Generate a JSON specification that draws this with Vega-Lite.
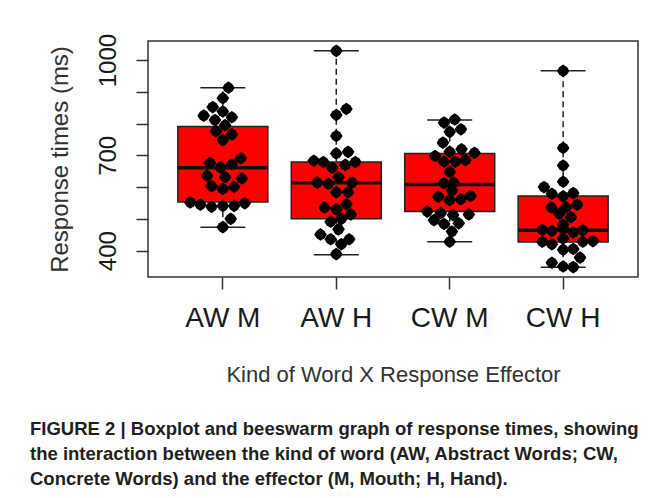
{
  "$schema": "https://vega.github.io/schema/vega-lite/v6.json",
  "width": 490,
  "height": 236,
  "autosize": {"type": "none"},
  "padding": {"left": 148, "top": 41, "right": 32, "bottom": 221},
  "background": "white",
  "config": {
    "view": {"stroke": "#333333", "strokeWidth": 1.5},
    "font": "Liberation Sans",
    "axisQuantitative": {"labelOverlap": false},
    "axisY": {
      "values": [400, 500, 600, 700, 800, 900, 1000],
      "labelExpr": "(datum.value == 400 || datum.value == 700 || datum.value == 1000) ? format(datum.value, 'd') : ''",
      "labelOverlap": false,
      "labelBound": false,
      "labelSeparation": 0,
      "domain": false,
      "grid": false,
      "tickSize": 12,
      "tickWidth": 1.5,
      "tickColor": "#333333",
      "labelAngle": -90,
      "labelFontSize": 24,
      "labelColor": "#1a1a1a",
      "labelPadding": 16,
      "titleFontSize": 24,
      "titleFontWeight": "normal",
      "titleColor": "#333333",
      "titlePadding": 24
    }
  },
  "title": {
    "text": [
      "FIGURE 2 | Boxplot and beeswarm graph of response times, showing",
      "the interaction between the kind of word (AW, Abstract Words; CW,",
      "Concrete Words) and the effector (M, Mouth; H, Hand)."
    ],
    "orient": "bottom",
    "anchor": "start",
    "frame": "group",
    "dx": -118,
    "offset": 35,
    "fontSize": 18.5,
    "fontWeight": "bold",
    "lineHeight": 25,
    "color": "#231f20",
    "font": "Liberation Sans"
  },
  "datasets": {
    "summary": [
      {"group": "AW M", "lower": 474, "q1": 553, "median": 661, "q3": 791, "upper": 913},
      {"group": "AW H", "lower": 387, "q1": 500, "median": 614, "q3": 679, "upper": 1029},
      {"group": "CW M", "lower": 428, "q1": 523, "median": 608, "q3": 706, "upper": 811},
      {"group": "CW H", "lower": 348, "q1": 427, "median": 464, "q3": 572, "upper": 966}
    ],
    "points": [
      {"group": "AW M", "rt": 913, "swarm": 0.05},
      {"group": "AW M", "rt": 880, "swarm": 0},
      {"group": "AW M", "rt": 852, "swarm": -0.09},
      {"group": "AW M", "rt": 838, "swarm": 0},
      {"group": "AW M", "rt": 825, "swarm": -0.17},
      {"group": "AW M", "rt": 811, "swarm": -0.07},
      {"group": "AW M", "rt": 820, "swarm": 0.08},
      {"group": "AW M", "rt": 795, "swarm": 0.02},
      {"group": "AW M", "rt": 776, "swarm": -0.06},
      {"group": "AW M", "rt": 766, "swarm": 0.08},
      {"group": "AW M", "rt": 748, "swarm": 0},
      {"group": "AW M", "rt": 691, "swarm": 0.16},
      {"group": "AW M", "rt": 676, "swarm": -0.115},
      {"group": "AW M", "rt": 662, "swarm": -0.02},
      {"group": "AW M", "rt": 672, "swarm": 0.08},
      {"group": "AW M", "rt": 636, "swarm": -0.14},
      {"group": "AW M", "rt": 631, "swarm": 0.02},
      {"group": "AW M", "rt": 627, "swarm": 0.17},
      {"group": "AW M", "rt": 603, "swarm": -0.1},
      {"group": "AW M", "rt": 594, "swarm": 0},
      {"group": "AW M", "rt": 601, "swarm": 0.1},
      {"group": "AW M", "rt": 552, "swarm": -0.29},
      {"group": "AW M", "rt": 545, "swarm": -0.2},
      {"group": "AW M", "rt": 538, "swarm": -0.1},
      {"group": "AW M", "rt": 541, "swarm": 0},
      {"group": "AW M", "rt": 541, "swarm": 0.1},
      {"group": "AW M", "rt": 549, "swarm": 0.195},
      {"group": "AW M", "rt": 500, "swarm": 0.07},
      {"group": "AW M", "rt": 474, "swarm": 0},
      {"group": "AW H", "rt": 1029, "swarm": 0},
      {"group": "AW H", "rt": 846, "swarm": 0.09},
      {"group": "AW H", "rt": 827, "swarm": 0},
      {"group": "AW H", "rt": 761, "swarm": 0},
      {"group": "AW H", "rt": 711, "swarm": 0.105},
      {"group": "AW H", "rt": 706, "swarm": 0},
      {"group": "AW H", "rt": 683, "swarm": -0.2},
      {"group": "AW H", "rt": 679, "swarm": -0.115},
      {"group": "AW H", "rt": 661, "swarm": -0.035},
      {"group": "AW H", "rt": 670, "swarm": 0.08},
      {"group": "AW H", "rt": 679, "swarm": 0.17},
      {"group": "AW H", "rt": 614, "swarm": -0.17},
      {"group": "AW H", "rt": 610, "swarm": -0.07},
      {"group": "AW H", "rt": 631, "swarm": 0.02},
      {"group": "AW H", "rt": 614, "swarm": 0.14},
      {"group": "AW H", "rt": 584, "swarm": 0},
      {"group": "AW H", "rt": 584, "swarm": 0.105},
      {"group": "AW H", "rt": 546, "swarm": 0.09},
      {"group": "AW H", "rt": 536, "swarm": -0.105},
      {"group": "AW H", "rt": 530, "swarm": 0},
      {"group": "AW H", "rt": 514, "swarm": 0.13},
      {"group": "AW H", "rt": 491, "swarm": -0.05},
      {"group": "AW H", "rt": 500, "swarm": 0.045},
      {"group": "AW H", "rt": 467, "swarm": 0.02},
      {"group": "AW H", "rt": 451, "swarm": -0.14},
      {"group": "AW H", "rt": 436, "swarm": -0.05},
      {"group": "AW H", "rt": 436, "swarm": 0.115},
      {"group": "AW H", "rt": 420, "swarm": 0.045},
      {"group": "AW H", "rt": 389, "swarm": 0},
      {"group": "CW M", "rt": 813, "swarm": 0.045},
      {"group": "CW M", "rt": 803, "swarm": -0.05},
      {"group": "CW M", "rt": 774, "swarm": 0},
      {"group": "CW M", "rt": 782, "swarm": 0.1},
      {"group": "CW M", "rt": 740, "swarm": -0.06},
      {"group": "CW M", "rt": 711, "swarm": 0},
      {"group": "CW M", "rt": 719, "swarm": 0.105},
      {"group": "CW M", "rt": 708, "swarm": 0.22},
      {"group": "CW M", "rt": 698, "swarm": -0.13},
      {"group": "CW M", "rt": 680, "swarm": -0.05},
      {"group": "CW M", "rt": 680, "swarm": 0.05},
      {"group": "CW M", "rt": 685, "swarm": 0.14},
      {"group": "CW M", "rt": 648, "swarm": 0},
      {"group": "CW M", "rt": 612, "swarm": -0.05},
      {"group": "CW M", "rt": 614, "swarm": 0.035},
      {"group": "CW M", "rt": 589, "swarm": 0.02},
      {"group": "CW M", "rt": 570, "swarm": -0.1},
      {"group": "CW M", "rt": 559, "swarm": 0},
      {"group": "CW M", "rt": 562, "swarm": 0.1},
      {"group": "CW M", "rt": 572, "swarm": 0.185},
      {"group": "CW M", "rt": 523, "swarm": -0.2},
      {"group": "CW M", "rt": 518, "swarm": -0.08},
      {"group": "CW M", "rt": 512, "swarm": 0.03},
      {"group": "CW M", "rt": 514, "swarm": 0.17},
      {"group": "CW M", "rt": 496, "swarm": -0.14},
      {"group": "CW M", "rt": 484, "swarm": -0.05},
      {"group": "CW M", "rt": 486, "swarm": 0.08},
      {"group": "CW M", "rt": 460, "swarm": 0.02},
      {"group": "CW M", "rt": 428, "swarm": 0},
      {"group": "CW H", "rt": 966, "swarm": 0},
      {"group": "CW H", "rt": 723, "swarm": 0},
      {"group": "CW H", "rt": 668, "swarm": 0},
      {"group": "CW H", "rt": 617, "swarm": 0},
      {"group": "CW H", "rt": 600, "swarm": -0.17},
      {"group": "CW H", "rt": 579, "swarm": -0.1},
      {"group": "CW H", "rt": 571, "swarm": 0},
      {"group": "CW H", "rt": 581, "swarm": 0.09},
      {"group": "CW H", "rt": 536, "swarm": -0.105},
      {"group": "CW H", "rt": 536, "swarm": 0.025},
      {"group": "CW H", "rt": 545, "swarm": 0.125},
      {"group": "CW H", "rt": 516, "swarm": -0.035},
      {"group": "CW H", "rt": 505, "swarm": 0.07},
      {"group": "CW H", "rt": 482, "swarm": 0},
      {"group": "CW H", "rt": 465, "swarm": -0.185},
      {"group": "CW H", "rt": 462, "swarm": -0.1},
      {"group": "CW H", "rt": 470, "swarm": 0},
      {"group": "CW H", "rt": 457, "swarm": 0.09},
      {"group": "CW H", "rt": 464, "swarm": 0.175},
      {"group": "CW H", "rt": 428, "swarm": -0.185},
      {"group": "CW H", "rt": 420, "swarm": -0.1},
      {"group": "CW H", "rt": 438, "swarm": 0},
      {"group": "CW H", "rt": 428, "swarm": 0.175},
      {"group": "CW H", "rt": 430, "swarm": 0.265},
      {"group": "CW H", "rt": 403, "swarm": 0},
      {"group": "CW H", "rt": 405, "swarm": 0.09},
      {"group": "CW H", "rt": 378, "swarm": 0.15},
      {"group": "CW H", "rt": 362, "swarm": -0.1},
      {"group": "CW H", "rt": 350, "swarm": 0},
      {"group": "CW H", "rt": 348, "swarm": 0.09}
    ]
  },
  "encoding": {
    "x": {
      "field": "group",
      "type": "nominal",
      "sort": ["AW M", "AW H", "CW M", "CW H"],
      "scale": {"paddingInner": 0.2063, "paddingOuter": 0.263},
      "title": "Kind of Word X Response Effector",
      "axis": {
        "domain": false,
        "grid": false,
        "ticks": true,
        "tickSize": 12,
        "tickWidth": 1.5,
        "tickColor": "#333333",
        "labelAngle": 0,
        "labelFontSize": 28,
        "labelColor": "#1a1a1a",
        "labelPadding": 15,
        "titleFontSize": 22,
        "titleFontWeight": "normal",
        "titleColor": "#333333",
        "titlePadding": 32
      }
    }
  },
  "layer": [
    {
      "data": {"name": "summary"},
      "mark": {"type": "rule", "strokeDash": [6, 4], "color": "#222222", "strokeWidth": 1.5, "opacity": 1},
      "encoding": {
        "y": {
          "field": "lower",
          "type": "quantitative",
          "title": "Response times (ms)",
          "scale": {"domain": [317, 1060], "nice": false, "zero": false},
          "axis": {"labelOverlap": false}
        },
        "y2": {"field": "upper"}
      }
    },
    {
      "data": {"name": "summary"},
      "mark": {"type": "tick", "size": 45, "thickness": 1.5, "color": "#222222", "orient": "horizontal", "opacity": 1},
      "encoding": {"y": {"field": "lower", "type": "quantitative", "title": "Response times (ms)", "axis": {"labelOverlap": false}}}
    },
    {
      "data": {"name": "summary"},
      "mark": {"type": "tick", "size": 45, "thickness": 1.5, "color": "#222222", "orient": "horizontal", "opacity": 1},
      "encoding": {"y": {"field": "upper", "type": "quantitative", "title": "Response times (ms)", "axis": {"labelOverlap": false}}}
    },
    {
      "data": {"name": "summary"},
      "mark": {"type": "bar", "width": 90, "fill": "#ff0000", "stroke": "#222222", "strokeWidth": 1.5, "opacity": 1},
      "encoding": {
        "y": {"field": "q1", "type": "quantitative", "title": "Response times (ms)", "axis": {"labelOverlap": false}},
        "y2": {"field": "q3"}
      }
    },
    {
      "data": {"name": "summary"},
      "mark": {"type": "tick", "size": 90, "thickness": 3.5, "color": "#111111", "orient": "horizontal", "opacity": 1},
      "encoding": {"y": {"field": "median", "type": "quantitative", "title": "Response times (ms)", "axis": {"labelOverlap": false}}}
    },
    {
      "data": {"name": "points"},
      "mark": {
        "type": "point",
        "filled": true,
        "shape": "M0,-1L0.6,-0.6L1,0L0.6,0.6L0,1L-0.6,0.6L-1,0L-0.6,-0.6Z",
        "size": 160,
        "color": "#000000",
        "opacity": 1
      },
      "encoding": {
        "y": {"field": "rt", "type": "quantitative", "title": "Response times (ms)", "axis": {"labelOverlap": false}},
        "xOffset": {
          "field": "swarm",
          "type": "quantitative",
          "scale": {"domain": [-0.4, 0.4], "range": [0, 90]}
        }
      }
    }
  ]
}
